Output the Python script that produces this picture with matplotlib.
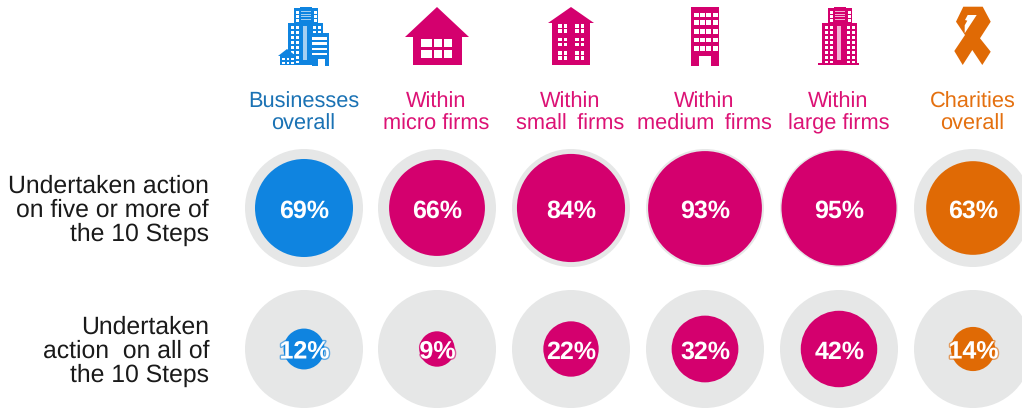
import numpy as np
import matplotlib
matplotlib.use('Agg')
import matplotlib.pyplot as plt
import matplotlib.patheffects as pe
from matplotlib.patches import Circle, Polygon, Rectangle

plt.rcParams['font.family'] = ['Liberation Sans', 'DejaVu Sans']
plt.rcParams['text.hinting'] = 'no_hinting'

headers = ['Businesses\noverall', 'Within\nmicro firms', 'Within\nsmall \u2009firms',
           'Within\nmedium \u2009firms', 'Within\nlarge firms', 'Charities\noverall']
row_labels = ['Undertaken action\non five or more of\nthe 10 Steps',
              'Undertaken\naction  on all of\nthe 10 Steps']
five_or_more = [69, 66, 84, 93, 95, 63]
all_ten = [12, 9, 22, 32, 42, 14]

BLUE = '#0f84e0'
PINK = '#d4006e'
ORANGE = '#e06a05'
GREY = '#e6e7e7'
colors = [BLUE, PINK, PINK, PINK, PINK, ORANGE]
text_colors = ['#1a72b4', '#dc1275', '#dc1275', '#dc1275', '#dc1275', '#e4700f']

col_x = [304, 437, 571, 705, 839, 973]
row_y = [208, 349]
R = 59

fig = plt.figure(figsize=(10.22, 4.09), dpi=100)
ax = fig.add_axes([0, 0, 1, 1])
ax.set_xlim(0, 1022)
ax.set_ylim(409, 0)
ax.axis('off')


def box(x0, y0, x1, y1, c):
    ax.add_patch(Rectangle((x0, y0), x1 - x0, y1 - y0, fc=c, ec='none'))


def windows(xs, ys, w, h, c='white'):
    for x in xs:
        for y in ys:
            box(x, y, x + w, y + h, c)


def tower(cx, c, light):
    # top section
    box(cx - 11, 8, cx + 13, 23, c)
    box(cx - 5, 7, cx + 7, 9, c)
    windows([cx - 9, cx + 9], [11, 15, 19], 3, 2.5)
    for y in [11, 13.5, 16, 18.5]:
        box(cx - 4, y, cx + 6, y + 1.2, light)
    # main block
    box(cx - 17, 23, cx + 18, 63, c)
    windows([cx - 14, cx - 9.5, cx + 8, cx + 12.5], np.arange(26, 62, 5), 3, 3)
    box(cx - 2, 26, cx + 2, 60, light)


# businesses icon
tower(305, BLUE, '#a5cff2')
box(312, 33, 329, 66, BLUE)
windows([312], [37.3, 42.3, 47.7, 52.7], 15, 2.6)
box(318, 59, 325, 66, 'white')
ax.add_patch(Polygon([(278, 56), (287, 49), (296, 56)], fc=BLUE, ec='none'))
box(280, 56, 295, 65, BLUE)
box(287, 63, 313, 65, BLUE)
windows([282, 286.5, 291], [58, 62], 2.5, 2.2)

# micro firm house
ax.add_patch(Polygon([(437, 7), (469, 37), (405, 37)], fc=PINK, ec='none'))
box(413, 37, 462, 65, PINK)
windows([421], [39, 50], 11, 7.5)
windows([434], [39, 50], 8, 7.5)
windows([444], [39, 50], 8, 7.5)

# small firm building
ax.add_patch(Polygon([(571, 7), (594, 23), (548, 23)], fc=PINK, ec='none'))
box(552, 23, 590, 65, PINK)
windows([558, 563.5, 575, 580.5], [24, 29, 37.5, 42.5, 51, 56], 3.8, 3.8)

# medium firm building
box(691, 7, 719, 66, PINK)
for x, w in [(693.5, 5), (700, 4.5), (706, 5), (713, 5)]:
    windows([x], [12.5, 20, 29, 37.5, 46], w, 4.5)
box(699, 56, 711, 66, 'white')

# large firm building
tower(839, PINK, '#f4b0d4')
box(818, 63, 859, 65, PINK)

# charity ribbon
ax.add_patch(Polygon([(963.3, 6.7), (982.7, 6.7), (990.7, 21.7), (980, 38.3), (990.7, 51.7),
                      (982.3, 65), (972.3, 50), (962.7, 65), (954.3, 51), (965, 35), (956, 21.7)],
                     fc=ORANGE, ec='none'))
ax.add_patch(Polygon([(967.7, 15), (976.7, 15), (964.7, 33.3), (964.7, 25.3), (967.3, 20.7), (965, 20)],
                     fc='white', ec='none'))

# headers
for x, label, c in zip(col_x, headers, text_colors):
    ax.text(x - 0.5, 113, label, color=c, fontsize=15.7, ha='center', va='center',
            linespacing=1.05)

# row labels
for y, label in zip(row_y, row_labels):
    ax.text(209, y + 2.5, label, color='#1a1a1a', fontsize=17.8, ha='right', va='center',
            linespacing=1.05)

# circles, inner area in proportion to the value
for y, values in zip(row_y, [five_or_more, all_ten]):
    for x, v, c in zip(col_x, values, colors):
        ax.add_patch(Circle((x, y), R, fc=GREY, ec='none'))
        ax.add_patch(Circle((x, y), R * np.sqrt(v / 100), fc=c, ec='none'))
        t = ax.text(x + 0.5, y + 3, f'{v}%', color='white', fontsize=18, fontweight='bold',
                    ha='center', va='center')
        if v < 20:
            t.set_path_effects([pe.withStroke(linewidth=2, foreground=c, alpha=0.6)])

fig.savefig('out.png', dpi=100)
